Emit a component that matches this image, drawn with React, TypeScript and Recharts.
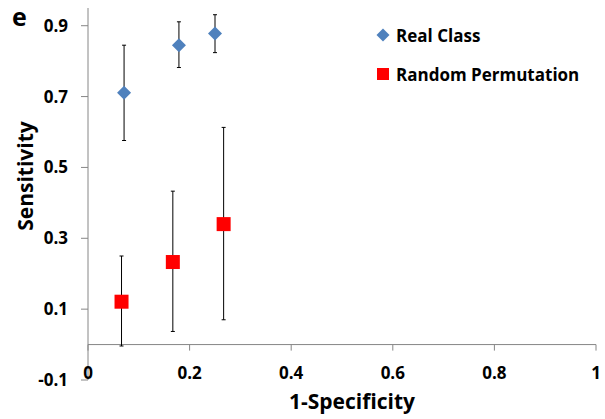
import { ScatterChart, Scatter, XAxis, YAxis, ErrorBar, ReferenceLine } from 'recharts'

const xTicks = [0, 0.2, 0.4, 0.6, 0.8, 1]
const yTicks = [-0.1, 0.1, 0.3, 0.5, 0.7, 0.9]

const realX = [0.071, 0.179, 0.25]
const realY = [0.711, 0.845, 0.878]
const realLow = [0.576, 0.782, 0.824]
const realHigh = [0.845, 0.911, 0.931]

const permX = [0.066, 0.167, 0.267]
const permY = [0.121, 0.233, 0.34]
const permLow = [-0.004, 0.037, 0.07]
const permHigh = [0.25, 0.433, 0.613]

const BLUE = '#4F81BD'
const RED = '#FF0000'
const AXIS = '#868686'
const FONT = '"Open Sans", sans-serif'

const buildRows = (xs: number[], ys: number[], lows: number[], highs: number[]) =>
  xs.map((x, i) => ({ x, y: ys[i], err: [ys[i] - lows[i], highs[i] - ys[i]] }))

const realRows = buildRows(realX, realY, realLow, realHigh)
const permRows = buildRows(permX, permY, permLow, permHigh)

const Diamond = (props: any) => {
  const { cx, cy } = props
  const r = 7
  return <polygon points={`${cx},${cy - r} ${cx + r},${cy} ${cx},${cy + r} ${cx - r},${cy}`} fill={BLUE} />
}

const Square = (props: any) => {
  const { cx, cy } = props
  return <rect x={cx - 7} y={cy - 7} width={14} height={14} fill={RED} />
}

const XTick = (props: any) => {
  const { x, y, payload } = props
  return (
    <text x={x} y={y - 8} textAnchor="middle" dominantBaseline="central"
      fontFamily={FONT} fontSize={17} fontWeight="bold" fill="#000">
      {String(payload.value)}
    </text>
  )
}

const XTitle = () => (
  <text x={352} y={401} textAnchor="middle" dominantBaseline="central"
    fontFamily={FONT} fontSize={21} fontWeight="bold" fill="#000">
    1-Specificity
  </text>
)

const YTitle = () => (
  <text x={25} y={176} transform="rotate(-90 25 176)" textAnchor="middle" dominantBaseline="central"
    fontFamily={FONT} fontSize={21} fontWeight="bold" fill="#000">
    Sensitivity
  </text>
)

const legendItems = [
  { name: 'Real Class', color: BLUE, kind: 'diamond' },
  { name: 'Random Permutation', color: RED, kind: 'square' }
]

const LegendBox = () => (
  <div style={{ position: 'absolute', left: 376, top: 24, fontFamily: FONT, fontSize: 17, fontWeight: 'bold', color: '#000' }}>
    {legendItems.map((item, i) => (
      <div key={item.name} style={{ display: 'flex', alignItems: 'center', height: 22, marginBottom: i === 0 ? 17 : 0 }}>
        <svg width={14} height={14} style={{ marginRight: 6 }}>
          {item.kind === 'diamond'
            ? <polygon points="7,0.5 13.5,7 7,13.5 0.5,7" fill={item.color} />
            : <rect x={1} y={1} width={12} height={12} fill={item.color} />}
        </svg>
        <span style={{ whiteSpace: 'nowrap' }}>{item.name}</span>
      </div>
    ))}
  </div>
)

export default function App() {
  return (
    <div style={{ position: 'absolute', left: 0, top: 0, width: 605, height: 419, background: '#fff' }}>
      <ScatterChart width={605} height={419} margin={{ top: 8, right: 9, bottom: 0, left: 0 }}>
        <XAxis
          type="number"
          dataKey="x"
          domain={[0, 1]}
          ticks={xTicks}
          axisLine={false}
          tickLine={false}
          tickSize={0}
          tickMargin={0}
          height={39}
          tick={<XTick />}
          label={<XTitle />}
        />
        <YAxis
          type="number"
          dataKey="y"
          domain={[-0.1, 0.95]}
          ticks={yTicks}
          width={88}
          stroke={AXIS}
          tickSize={7}
          tickMargin={13}
          tick={{ fontFamily: FONT, fontSize: 17, fontWeight: 'bold', fill: '#000' }}
          tickFormatter={(v: number) => String(v)}
          label={<YTitle />}
        />
        <ReferenceLine y={0} stroke={AXIS} strokeWidth={1} />
        {xTicks.map((t) => (
          <ReferenceLine key={t} segment={[{ x: t, y: 0 }, { x: t, y: -0.017 }]} stroke={AXIS} strokeWidth={1} />
        ))}
        <Scatter name="Real Class" data={realRows} shape={<Diamond />} isAnimationActive={false}>
          <ErrorBar dataKey="err" direction="y" width={2} stroke="#000" strokeWidth={1} />
        </Scatter>
        <Scatter name="Random Permutation" data={permRows} shape={<Square />} isAnimationActive={false}>
          <ErrorBar dataKey="err" direction="y" width={2} stroke="#000" strokeWidth={1} />
        </Scatter>
      </ScatterChart>
      <LegendBox />
      <div style={{ position: 'absolute', left: 12, top: 1, fontFamily: FONT, fontSize: 25, fontWeight: 'bold', lineHeight: '30px' }}>e</div>
    </div>
  )
}
